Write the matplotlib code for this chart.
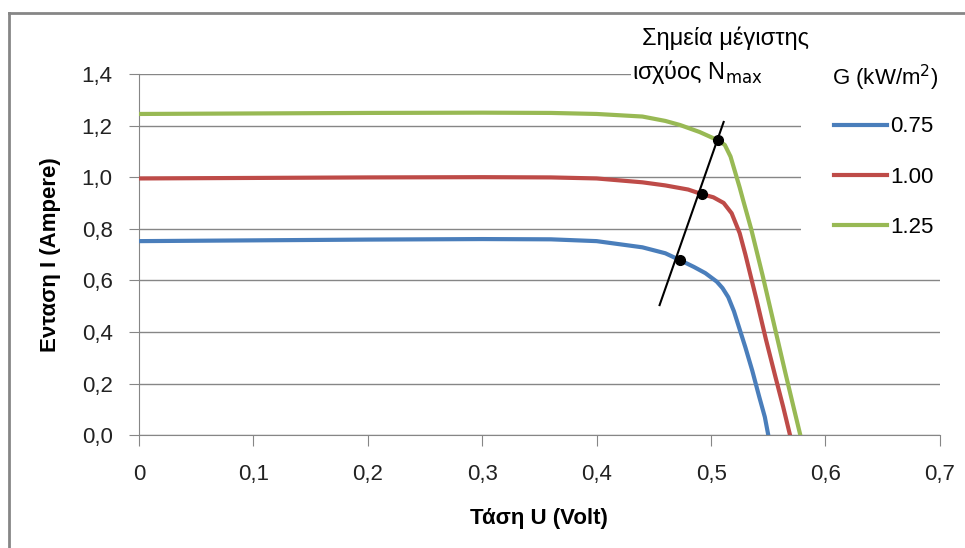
import matplotlib.pyplot as plt
import matplotlib.ticker
from matplotlib.lines import Line2D
from matplotlib.patches import Rectangle

# I-U curves, one per irradiance level
u_075 = [0.0, 0.1, 0.2, 0.3, 0.36, 0.40, 0.44, 0.46, 0.473, 0.485, 0.495, 0.505,
         0.510, 0.515, 0.520, 0.525, 0.530, 0.536, 0.542, 0.547, 0.550]
i_075 = [0.752, 0.755, 0.758, 0.760, 0.759, 0.752, 0.728, 0.705, 0.678, 0.652, 0.628, 0.595,
         0.570, 0.535, 0.480, 0.410, 0.340, 0.250, 0.150, 0.070, 0.0]

u_100 = [0.0, 0.1, 0.2, 0.3, 0.36, 0.40, 0.44, 0.46, 0.48, 0.492, 0.502, 0.511,
         0.518, 0.525, 0.530, 0.534, 0.540, 0.548, 0.556, 0.563, 0.569]
i_100 = [0.995, 0.997, 0.999, 1.0, 0.999, 0.995, 0.980, 0.968, 0.952, 0.934, 0.922, 0.900,
         0.860, 0.783, 0.700, 0.628, 0.520, 0.370, 0.230, 0.110, 0.0]

u_125 = [0.0, 0.1, 0.2, 0.3, 0.36, 0.40, 0.44, 0.46, 0.473, 0.49, 0.506, 0.512,
         0.517, 0.521, 0.525, 0.528, 0.535, 0.545, 0.555, 0.565, 0.572, 0.578]
i_125 = [1.245, 1.247, 1.249, 1.250, 1.249, 1.245, 1.235, 1.218, 1.202, 1.175, 1.143, 1.125,
         1.080, 1.020, 0.960, 0.911, 0.800, 0.620, 0.430, 0.240, 0.110, 0.0]

# maximum power points and the line through them
mpp_u = [0.473, 0.492, 0.506]
mpp_i = [0.678, 0.934, 1.143]
line_u = [0.455, 0.511]
line_i = [0.504, 1.214]

labels = ['0.75', '1.00', '1.25']
colors = ['#4A7EBB', '#BE4B48', '#98B954']

plt.rcParams['font.family'] = ['Liberation Sans', 'DejaVu Sans']
fig = plt.figure(figsize=(9.65, 5.48), dpi=100)
ax = fig.add_axes([0.144, 0.206, 0.830, 0.659])

for u, i, c, lab in zip([u_075, u_100, u_125], [i_075, i_100, i_125], colors, labels):
    ax.plot(u, i, color=c, lw=3, label=lab, solid_capstyle='round',
            solid_joinstyle='round', zorder=3)

ax.plot(line_u, line_i, color='black', lw=1.5, zorder=4)
ax.plot(mpp_u, mpp_i, 'o', color='black', ms=7, zorder=5)

ax.set_xlim(0, 0.7)
ax.set_ylim(0, 1.4)
ax.set_xticks([0, 0.1, 0.2, 0.3, 0.4, 0.5, 0.6, 0.7])
ax.set_yticks([0, 0.2, 0.4, 0.6, 0.8, 1.0, 1.2, 1.4])
ax.xaxis.set_major_formatter(matplotlib.ticker.FuncFormatter(
    lambda v, p: '0' if v == 0 else ('%.1f' % v).replace('.', ',')))
ax.yaxis.set_major_formatter(matplotlib.ticker.FuncFormatter(
    lambda v, p: ('%.1f' % v).replace('.', ',')))
ax.tick_params(axis='x', length=8, color='#868686', labelsize=16, pad=13, labelcolor='#222222')
ax.tick_params(axis='y', length=7, color='#868686', labelsize=16, pad=12, labelcolor='#222222')
ax.grid(axis='y', color='#868686', lw=1)
ax.set_axisbelow(True)
for s in ['top', 'right']:
    ax.spines[s].set_visible(False)
for s in ['left', 'bottom']:
    ax.spines[s].set_color('#868686')

ax.set_xlabel('Τάση U (Volt)', fontsize=16, fontweight='bold', labelpad=16)
ax.set_ylabel('Ενταση I (Ampere)', fontsize=16, fontweight='bold', labelpad=15)

# white area behind the annotation, hides the top gridline there
ax.add_patch(Rectangle((0.43, 1.37), 0.30, 0.07, facecolor='white', edgecolor='none',
                       zorder=2, clip_on=False))
ax.text(0.513, 1.539, 'Σημεία μέγιστης', fontsize=17, ha='center', va='center', zorder=7)
ax.text(0.431, 1.408, 'ισχύος N$_{\\mathrm{max}}$', fontsize=17, ha='left', va='center',
        zorder=7)
ax.text(0.6058, 1.384, 'G (kW/m$^2$)', fontsize=16, ha='left', va='center', zorder=7)

handles = [Line2D([], [], color=c, lw=3) for c in colors]
leg = ax.legend(handles, labels, loc='upper left',
                bbox_to_anchor=(0.826, 0.975), fontsize=16,
                handlelength=2.4, handletextpad=0.15, labelspacing=1.32,
                frameon=True, facecolor='white', edgecolor='none', framealpha=1,
                borderpad=1.5, borderaxespad=0, fancybox=False)
leg.set_zorder(6)

# frame lines on left and top of the figure
fig.add_artist(Line2D([9 / 965, 9 / 965], [0, 1 - 13 / 548], color='#868686', lw=2))
fig.add_artist(Line2D([9 / 965, 1], [1 - 13 / 548, 1 - 13 / 548], color='#868686', lw=2))

fig.savefig('out.png')
